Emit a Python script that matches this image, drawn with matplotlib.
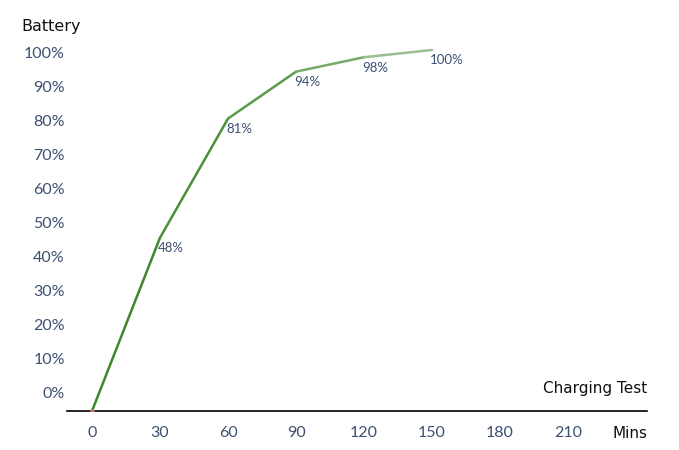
import matplotlib
matplotlib.use("Agg")
import matplotlib.pyplot as plt
from matplotlib.collections import LineCollection
import numpy as np

minutes = [0, 30, 60, 90, 120, 150]
battery = [0, 48, 81, 94, 98, 100]
point_labels = ["", "48%", "81%", "94%", "98%", "100%"]
x_ticks = [0, 30, 60, 90, 120, 150, 180, 210]
y_tick_labels = ["0%", "10%", "20%", "30%", "40%", "50%", "60%", "70%", "80%", "90%", "100%"]

W, H = 679, 450
fig = plt.figure(figsize=(W / 100, H / 100), dpi=100)

left_px, right_px, bottom_px, top_px = 67, 647, 411, 20
ax = fig.add_axes([left_px / W, 1 - bottom_px / H, (right_px - left_px) / W, (bottom_px - top_px) / H])

xscale = 2.267  # px per minute
yscale = 3.61   # px per percent
ax.set_xlim((left_px - 92) / xscale, (right_px - 92) / xscale)
ax.set_ylim(0, (bottom_px - top_px) / yscale)

tick_color = "#3c5070"
seg_colors = ["#3d872d", "#48903a", "#5a9a4a", "#76aa68", "#98bf8e"]

pts = np.column_stack([minutes, battery])
segs = np.stack([pts[:-1], pts[1:]], axis=1)
lc = LineCollection(segs, colors=seg_colors, linewidths=1.8, capstyle="round")
ax.add_collection(lc)
ax.plot([0], [0], marker="o", ms=2.5, color="#b07a6a", zorder=3)

for xm, yv, lab in zip(minutes, battery, point_labels):
    if lab:
        ax.annotate(lab, (xm, yv), xytext=(-1.5, -7.5), textcoords="offset points",
                    ha="left", va="center", fontsize=9.5, color=tick_color,
                    family="Lato")

for s in ["top", "right", "left"]:
    ax.spines[s].set_visible(False)
ax.spines["bottom"].set_color("black")
ax.spines["bottom"].set_linewidth(1.2)

ypos = [(bottom_px - (393 - 34 * k)) / yscale for k in range(len(y_tick_labels))]
ax.set_yticks(ypos)
ax.set_yticklabels(y_tick_labels, fontsize=11.5, color=tick_color, family="Lato")
ax.tick_params(axis="y", length=0, pad=1.5)

ax.set_xticks(x_ticks)
ax.set_xticklabels([str(v) for v in x_ticks], fontsize=11.5, color=tick_color, family="Lato")
ax.tick_params(axis="x", length=0, pad=11)

fig.text(21 / W, 1 - 27 / H, "Battery", fontsize=11.5, color="#111111",
         family="DejaVu Sans", ha="left", va="center")
fig.text(647 / W, 1 - 388 / H, "Charging Test", fontsize=11, color="#111111",
         family="DejaVu Sans", ha="right", va="center")
fig.text(647 / W, 1 - 433 / H, "Mins", fontsize=11, color="#111111",
         family="DejaVu Sans", ha="right", va="center")

fig.savefig("out.png", dpi=100, facecolor="white")
